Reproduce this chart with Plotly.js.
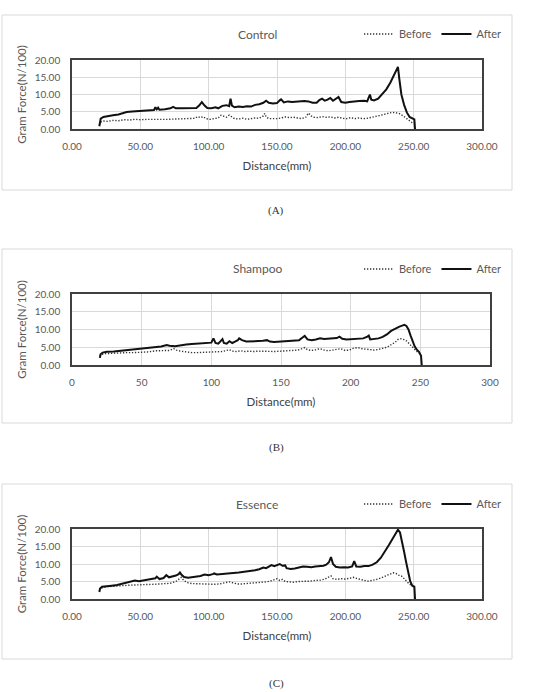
<!DOCTYPE html>
<html><head><meta charset="utf-8">
<script src="https://cdn.plot.ly/plotly-3.0.1.min.js"></script>
<style>html,body{margin:0;padding:0;background:#fff}#chart{width:553px;height:692px}</style>
</head><body><div id="chart"></div>
<script>
// ---- Data ----
const panelTitles = ["Control", "Shampoo", "Essence"];
const captions = ["(A)", "(B)", "(C)"];
const seriesNames = ["Before", "After"];
const xTickFormats = [".2f", "d", ".2f"];

const controlAfterX = [20,20.5,21,23,26,30,34,37,40,44,48,52,56,60,61,62,63,64,68,72,74,76,80,84,88,91,93,95,97,99,102,105,107,110,113,115,116,117,119,122,125,128,131,134,137,140,142,144,147,150,152,153,155,158,161,164,167,170,173,176,179,181,183,185,187,189,191,193,195,197,200,203,206,210,214,216,217,218,219,221,224,227,230,233,236,238,238.5,239.5,241,243,245,247,249,250.5,251];
const controlAfterY = [0.8,2.5,3.0,3.5,3.8,4.0,4.2,4.6,4.9,5.1,5.2,5.3,5.4,5.5,6.3,5.7,6.2,5.6,5.7,6.0,6.4,6.0,6.0,6.1,6.2,6.1,6.8,7.8,6.8,6.1,6.0,6.3,6.0,6.7,6.9,6.6,8.8,6.8,6.3,6.5,6.4,6.6,6.5,7.0,7.2,7.6,8.2,7.6,7.4,7.5,8.3,8.6,7.7,8.0,7.8,7.9,8.1,8.1,8.0,7.6,7.6,8.4,8.8,8.2,8.5,9.0,8.2,8.7,9.3,7.8,7.6,7.8,8.0,8.1,8.2,8.0,9.0,10.0,8.5,8.3,8.8,10.0,11.5,13.5,16.0,17.8,18.0,14.5,10.0,7.0,4.8,3.5,3.0,2.8,0];
const controlBeforeX = [20,21,23,26,30,34,38,42,46,50,55,60,65,70,75,80,85,90,92,94,96,98,101,104,107,109,111,113,115,117,119,122,125,128,131,134,137,140,141,142,144,147,150,153,156,159,162,165,168,171,173,175,177,180,183,186,189,192,195,198,201,204,207,210,213,216,219,222,225,228,231,234,237,240,243,246,248,250];
const controlBeforeY = [1.2,2.0,2.3,2.2,2.5,2.4,2.7,2.6,2.8,2.7,2.8,2.7,2.8,2.8,2.9,2.8,2.9,3.1,3.6,3.3,3.6,3.0,2.8,3.0,3.2,4.0,3.6,3.4,4.0,3.5,3.0,2.9,3.1,2.8,3.0,3.2,3.1,3.8,4.5,3.5,3.0,2.9,3.0,3.2,3.5,3.3,3.4,3.2,3.0,3.4,4.6,3.8,3.4,3.3,3.6,3.4,3.5,3.2,3.4,3.1,3.0,3.3,3.0,3.2,3.0,3.1,3.3,3.6,3.9,4.2,4.5,4.8,4.7,4.4,3.6,2.8,2.2,1.5];

const shampooAfterX = [20,20.5,22,25,30,35,40,45,50,55,60,64,68,70,74,78,82,86,90,94,98,100,101.5,103,105,107,108,109,111,113,115,117,119,120,122,125,128,131,134,137,140,142,145,148,151,154,157,160,163,165,167,169,172,175,178,181,184,187,190,192,194,197,200,203,206,209,212,213,214,217,220,223,226,229,232,235,237,238.5,240,241.5,243,244.5,246,247.5,249,250.5,251];
const shampooAfterY = [2.0,3.0,3.5,3.7,3.8,4.0,4.3,4.6,4.7,4.9,5.0,5.2,5.6,5.4,5.3,5.6,5.8,5.9,6.0,6.0,6.1,6.3,7.5,6.2,6.0,6.8,7.3,6.2,6.0,6.7,6.2,6.6,7.0,7.5,7.0,6.6,6.6,6.8,6.6,6.8,7.0,6.6,6.5,6.6,6.6,6.7,6.7,6.9,7.0,7.6,8.2,7.2,7.0,7.2,7.5,7.3,7.4,7.4,7.6,8.0,7.4,7.2,7.3,7.5,7.4,7.5,8.0,8.3,7.2,7.3,7.5,7.9,8.6,9.6,10.3,10.8,11.1,11.3,11.0,10.0,8.3,6.5,5.2,4.3,3.7,2.6,0];
const shampooBeforeX = [20,21,24,28,32,36,40,45,50,55,60,65,70,73,75,78,82,86,90,95,100,104,108,111,113,115,118,121,124,127,130,134,138,142,146,150,154,158,162,165,167,169,172,175,178,181,184,187,190,193,196,199,202,205,208,211,214,217,220,223,226,229,232,234,236,238,240,242,244,246,248,250];
const shampooBeforeY = [2.5,3.0,3.2,3.3,3.3,3.4,3.5,3.5,3.5,3.7,4.0,4.0,4.1,4.6,4.2,3.9,3.6,3.5,3.5,3.6,3.6,3.7,3.8,4.1,4.3,3.9,3.8,4.0,3.8,3.9,3.8,3.9,3.8,3.9,3.8,3.9,4.0,4.0,4.2,4.6,4.9,4.3,4.1,4.3,4.6,4.2,4.0,4.2,4.5,4.6,4.1,4.2,4.7,4.9,4.6,4.4,4.3,4.2,4.4,4.6,5.0,5.7,6.4,7.2,7.4,7.2,6.8,6.0,5.2,4.3,3.6,3.2];

const essenceAfterX = [20,20.5,22,25,29,33,36,40,43,46,49,52,55,58,61,62,64,67,69,71,74,76,78,79,80,82,85,88,91,94,97,100,103,104,106,110,114,118,122,126,130,134,137,140,142,144,146,148,150,152,154,156,157,160,163,166,169,172,175,178,181,184,186,188,189.5,191,193,196,199,202,205,206.5,208,211,214,217,220,223,226,229,232,235,237,238.5,240,241.5,243,244.5,246,247.5,249,250.5,251];
const essenceAfterY = [2.0,3.0,3.5,3.7,3.8,4.0,4.3,4.6,4.9,5.3,5.1,5.2,5.5,5.7,5.9,6.4,5.7,6.0,6.8,6.2,6.4,6.7,7.1,7.6,7.0,6.3,6.1,6.2,6.3,6.6,7.0,6.8,7.1,7.3,7.0,7.1,7.3,7.5,7.6,7.8,7.9,8.2,8.5,9.0,8.8,9.2,9.7,9.4,9.8,10.0,9.5,9.6,8.8,8.6,8.7,9.0,9.3,9.2,9.1,9.3,9.3,9.5,9.8,10.5,12.0,10.0,9.2,9.0,9.1,9.0,9.3,10.8,9.3,9.2,9.4,9.4,9.8,10.5,11.8,13.5,15.5,17.5,19.0,19.8,19.0,16.5,13.5,10.5,7.5,5.0,3.8,3.5,0];
const essenceBeforeX = [20,22,25,28,32,36,40,45,50,55,60,64,68,72,76,78,80,82,85,88,92,96,100,104,108,112,115,118,121,124,127,130,134,138,142,145,148,150,152,154,156,159,162,166,170,174,178,182,185,188,189.5,191,194,197,200,203,206,208,211,214,217,220,223,226,229,232,235,237,239,241,243,245,247,249];
const essenceBeforeY = [2.5,3.2,3.5,3.6,3.8,3.9,3.9,4.0,4.0,4.1,4.2,4.3,4.4,4.5,5.0,5.6,6.2,5.2,4.6,4.4,4.3,4.2,4.1,4.2,4.3,4.6,4.9,4.6,4.3,4.3,4.4,4.5,4.6,4.6,4.9,5.1,5.4,5.8,5.3,5.6,5.0,4.8,4.8,5.0,5.0,5.1,5.3,5.4,5.7,6.2,6.6,5.8,5.6,5.8,5.7,5.9,6.2,5.9,5.5,5.3,5.1,5.3,5.6,6.0,6.5,7.0,7.5,7.3,6.8,6.6,5.8,4.9,4.2,3.8];

const panels = [
  {before:[controlBeforeX, controlBeforeY], after:[controlAfterX, controlAfterY]},
  {before:[shampooBeforeX, shampooBeforeY], after:[shampooAfterX, shampooAfterY]},
  {before:[essenceBeforeX, essenceBeforeY], after:[essenceAfterX, essenceAfterY]}
];

// ---- Layout geometry (pixels in the 553x692 page) ----
const W = 553, H = 692;
const px = v => v / W, py = v => 1 - v / H;
const geo = [
  {l:72, r:482, t:60, b:129, box:[2,15,512,190], head:34, cap:211},
  {l:72, r:490, t:294, b:365, box:[2,249,512,423], head:269, cap:447},
  {l:72, r:482, t:529, b:599, box:[2,484,512,659], head:504, cap:683}
];

const FONT = "Lato, 'Open Sans', sans-serif";
const traces = [];
const layout = {
  width: W, height: H,
  margin: {l:0, r:0, t:0, b:0},
  paper_bgcolor: "#fff", plot_bgcolor: "#fff",
  font: {family: FONT, color: "#595959"},
  shapes: [], annotations: []
};

panels.forEach((p, i) => {
  const sfx = i === 0 ? "" : String(i + 1);
  const g = geo[i];
  const legKey = "legend" + sfx;
  traces.push({
    x: p.before[0], y: p.before[1], xaxis: "x" + sfx, yaxis: "y" + sfx,
    type: "scatter", mode: "lines", name: seriesNames[0], legend: legKey,
    line: {color: "#333", width: 1.4, dash: "1.3px,1.7px"}
  });
  traces.push({
    x: p.after[0], y: p.after[1], xaxis: "x" + sfx, yaxis: "y" + sfx,
    type: "scatter", mode: "lines", name: seriesNames[1], legend: legKey,
    line: {color: "#111", width: 2}
  });
  const axBase = {
    showline: true, mirror: true, linecolor: "#404040", linewidth: 1.8,
    showgrid: true, gridcolor: "#d9d9d9", gridwidth: 1, zeroline: false,
    ticks: "", fixedrange: true,
    tickfont: {family: FONT, size: 10, color: "#595959"}
  };
  layout["xaxis" + sfx] = Object.assign({}, axBase, {
    domain: [px(g.l), px(g.r)], anchor: "y" + sfx,
    range: [0, 300], dtick: 50, tick0: 0, tickformat: xTickFormats[i],
    ticklabelstandoff: 7,
    title: {text: "Distance(mm)", font: {family: FONT, size: 11.5, color: "#404040"}, standoff: 11}
  });
  layout["yaxis" + sfx] = Object.assign({}, axBase, {
    domain: [py(g.b), py(g.t)], anchor: "x" + sfx,
    range: [0, 20], dtick: 5, tick0: 0, tickformat: ".2f",
    ticklabelstandoff: 8,
    title: {text: "Gram Force(N/100)", font: {family: FONT, size: 11.5, color: "#595959"}, standoff: 6}
  });
  layout[legKey] = {
    orientation: "h", x: px(507), xanchor: "right", y: py(g.head), yanchor: "middle",
    bgcolor: "rgba(0,0,0,0)", font: {family: FONT, size: 11, color: "#595959"},
    itemwidth: 30, tracegroupgap: 0
  };
  layout.shapes.push({
    type: "rect", xref: "paper", yref: "paper",
    x0: px(g.box[0]), x1: px(g.box[2]), y0: py(g.box[3]), y1: py(g.box[1]),
    line: {color: "#d9d9d9", width: 1}, layer: "below"
  });
  layout.annotations.push({
    xref: "paper", yref: "paper", x: px(257), y: py(g.head), xanchor: "center", yanchor: "middle",
    text: panelTitles[i], showarrow: false, font: {family: FONT, size: 12, color: "#595959"}
  });
  layout.annotations.push({
    xref: "paper", yref: "paper", x: px(276), y: py(g.cap), xanchor: "center", yanchor: "middle",
    text: captions[i], showarrow: false, font: {family: "'Liberation Serif', serif", size: 11, color: "#333"}
  });
});

Plotly.newPlot("chart", traces, layout, {staticPlot: true, displayModeBar: false});
</script></body></html>
